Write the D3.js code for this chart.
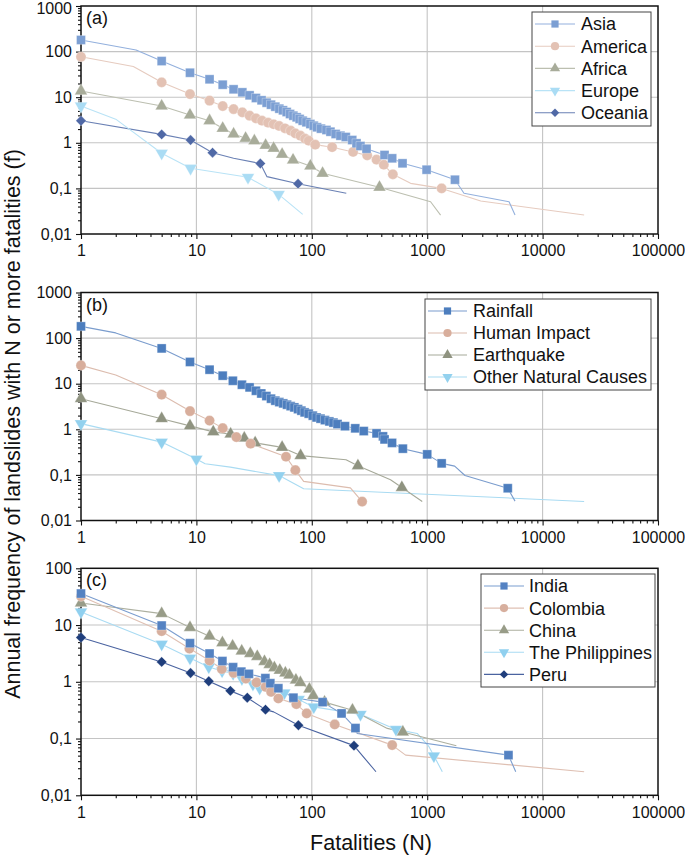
<!DOCTYPE html>
<html><head><meta charset="utf-8">
<script src="https://cdn.jsdelivr.net/npm/d3@7"></script>
<style>body{margin:0;background:#fff} svg{display:block;font-family:Arial,"Liberation Sans",sans-serif}</style>
</head><body><svg id="chart" width="685" height="857"></svg>
<script>
// ---------- tick labels ----------
const xTicks = [1, 10, 100, 1000, 10000, 100000];
const xTickLabels = ["1", "10", "100", "1000", "10000", "100000"];
const yTicksAB = [0.01, 0.1, 1, 10, 100, 1000];
const yTickLabelsAB = ["0,01", "0,1", "1", "10", "100", "1000"];
const yTicksC = [0.01, 0.1, 1, 10, 100];
const yTickLabelsC = ["0,01", "0,1", "1", "10", "100"];

// ---------- panel (a): continents ----------
const asiaN = [1,5,8.8,13,16.9,21,25,28.9,32.8,36.7,40.6,44.3,48.3,52.3,56.3,60.6,64.8,69.2,74,78.5,83.4,89.8,97.2,104,111,120,134,145,161,177,197,224,244,264,298,427,497,611,988,1740];
const asiaF = [180,62,34.4,24.7,18.8,14.9,12.8,11.0,9.6,8.55,7.57,6.85,6.19,5.6,5.16,4.73,4.28,3.93,3.62,3.33,3.05,2.82,2.58,2.37,2.19,2.04,1.91,1.75,1.56,1.43,1.34,1.15,0.975,0.85,0.74,0.54,0.457,0.355,0.257,0.155];
const asiaLineN = [3, 2083, 5120, 5770];
const asiaLineF = [108, 0.078, 0.051, 0.026];

const americaN = [1,5,8.8,13,16.9,21,25,28.9,32.8,37,41.8,46.7,52,58.6,65.6,72,79.6,87.5,94,107,150,228,302,364,421,504,1334];
const americaF = [77,21.2,11.7,8.4,6.4,5.5,4.66,3.93,3.44,3.05,2.76,2.55,2.34,2.08,1.84,1.61,1.43,1.23,1.11,0.91,0.80,0.63,0.53,0.426,0.33,0.204,0.10];
const americaLineN = [2.84, 718, 2910, 22900];
const americaLineF = [47, 0.129, 0.053, 0.026];

const africaN = [1,5,8.8,13,16.9,21,26.7,31.8,39.8,46.7,55.3,68.8,97.2,124,386];
const africaF = [13.7,6.4,4.07,3.05,2.08,1.56,1.26,1.1,0.88,0.757,0.56,0.42,0.31,0.214,0.106];
const africaLineN = [1070, 1306];
const africaLineF = [0.051, 0.026];

const europeN = [1,5,8.9,28,51.6];
const europeF = [6.4,0.59,0.276,0.175,0.074];
const europeLineN = [2, 83.4];
const europeLineF = [3.3, 0.027];

const oceaniaN = [1,5,8.9,13.8,35.8,76];
const oceaniaF = [3.05,1.53,1.15,0.607,0.351,0.127];
const oceaniaLineN = [21, 40.9, 199];
const oceaniaLineF = [0.46, 0.181, 0.078];

// ---------- panel (b): triggers ----------
const rainN = [1,5,8.8,13,16.9,20.7,24.8,28.9,32.8,36.5,40.4,44.3,48.3,52.3,56.6,61,65.6,70.6,76,81.2,86.7,94,102,110,119,130,142,154,167,194,238,282,364,414,427,496,615,1000,1334,4990];
const rainF = [181,59.4,30,20.3,15,11.6,9.5,8.3,7.0,6.1,5.35,4.69,4.24,3.95,3.7,3.46,3.22,3.02,2.77,2.56,2.35,2.2,1.99,1.82,1.71,1.59,1.49,1.40,1.30,1.17,1.05,0.914,0.814,0.70,0.60,0.503,0.376,0.282,0.179,0.051];
const rainLineN = [2, 1730, 2125, 5770];
const rainLineF = [130, 0.156, 0.097, 0.0266];

const humanN = [1,5,8.8,13,16.9,22.2,29.5,59.8,72,273];
const humanF = [25.2,5.74,2.51,1.55,1.06,0.675,0.483,0.25,0.127,0.026];
const humanLineN = [2, 85, 216];
const humanLineF = [15.5, 0.072, 0.052];

const quakeN = [1,5,8.8,14,19.8,26,32.3,55.3,80,251,603];
const quakeF = [4.69,1.71,1.19,0.877,0.785,0.638,0.504,0.401,0.265,0.159,0.053];
const quakeLineN = [198, 481, 906];
const quakeLineF = [0.215, 0.0785, 0.026];

const otherN = [1,5,10,52.1];
const otherF = [1.33,0.524,0.222,0.0966];
const otherLineN = [11.9, 19.7, 85, 22900];
const otherLineF = [0.176, 0.148, 0.0497, 0.0262];

// ---------- panel (c): countries ----------
const indiaN = [1,5,8.8,13,16.8,20.8,24.5,28.5,39.6,43.7,51.3,69.3,124,181,239,5060];
const indiaF = [35.9,9.8,4.79,3.15,2.32,1.81,1.51,1.38,1.16,0.944,0.77,0.525,0.438,0.277,0.153,0.051];
const indiaLineN = [247, 5850];
const indiaLineF = [0.123, 0.026];

const colombiaN = [1,5,8.7,13,16.6,21,26.8,33.2,39.8,44.4,51.3,73.5,90.3,158,497];
const colombiaF = [32.1,7.8,3.85,2.37,1.68,1.44,1.14,0.973,0.813,0.664,0.508,0.404,0.277,0.177,0.0766];
const colombiaLineN = [650, 22900];
const colombiaLineF = [0.051, 0.026];

const chinaN = [1,5,8.8,13,16.8,20.6,24.7,29.3,33.7,38.9,43.1,47.4,52.8,59,64,72.8,79.6,95.3,103,129,225,615];
const chinaF = [24.5,15.9,9.04,6.36,4.87,4.24,3.48,3.15,2.79,2.28,2.02,1.77,1.6,1.43,1.31,1.07,0.964,0.741,0.569,0.438,0.316,0.13];
const chinaLineN = [451, 1790];
const chinaLineF = [0.151, 0.0744];

const philN = [1,5,8.8,12.8,16.7,20.8,24.8,30.9,35.3,57.8,76.9,104,264,537,1143];
const philF = [17,4.59,2.62,1.83,1.55,1.4,1.14,0.908,0.771,0.638,0.488,0.361,0.267,0.145,0.0496];
const philLineN = [819, 1036, 1352];
const philLineF = [0.123, 0.072, 0.026];

const peruN = [1,5,8.9,12.8,19.7,27.6,39.7,76.5,232];
const peruF = [6.03,2.24,1.43,1.02,0.692,0.525,0.323,0.172,0.075];
const peruLineN = [46.7, 264, 360];
const peruLineF = [0.295, 0.0547, 0.026];

// ---------- helpers ----------
const pts = (N, F) => N.map((n, i) => ({n: n, f: F[i]}));
const linePts = (N, F, EN, EF) => pts(N, F).concat(pts(EN, EF)).sort((a, b) => a.n - b.n);

function S(name, shape, color, lineColor, N, F, LN, LF) {
  return {name, shape, color, lineColor, markers: pts(N, F), line: linePts(N, F, LN, LF)};
}

const panels = [
  { label: "(a)", top: 6, bottom: 234, yMax: 1000, ticks: yTicksAB, tickLabels: yTickLabelsAB,
    legend: {x: 532, y: 12, w: 119, h: 114, lx0: 535, lx1: 575, tx: 581, dy: 22.2},
    series: [
      S("Asia", "square", "#7c9fd3", "#93b0dd", asiaN, asiaF, asiaLineN, asiaLineF),
      S("America", "circle", "#e3c2b4", "#e6cbbf", americaN, americaF, americaLineN, americaLineF),
      S("Africa", "triangle", "#a8ac9a", "#bcbfb0", africaN, africaF, africaLineN, africaLineF),
      S("Europe", "tridown", "#aadcf4", "#b9e3f6", europeN, europeF, europeLineN, europeLineF),
      S("Oceania", "diamond", "#5069a6", "#6a80b4", oceaniaN, oceaniaF, oceaniaLineN, oceaniaLineF)
    ]},
  { label: "(b)", top: 292.5, bottom: 520.5, yMax: 1000, ticks: yTicksAB, tickLabels: yTickLabelsAB,
    legend: {x: 425, y: 299, w: 226, h: 91, lx0: 428, lx1: 467, tx: 473, dy: 22},
    series: [
      S("Rainfall", "square", "#4d7ebe", "#7a9ccd", rainN, rainF, rainLineN, rainLineF),
      S("Human Impact", "circle", "#d8ae9c", "#dcbcae", humanN, humanF, humanLineN, humanLineF),
      S("Earthquake", "triangle", "#8f9380", "#a6a999", quakeN, quakeF, quakeLineN, quakeLineF),
      S("Other Natural Causes", "tridown", "#93d1ee", "#a9dbf2", otherN, otherF, otherLineN, otherLineF)
    ]},
  { label: "(c)", top: 568.3, bottom: 795.3, yMax: 100, ticks: yTicksC, tickLabels: yTickLabelsC,
    legend: {x: 481, y: 574, w: 174, h: 113, lx0: 484, lx1: 524, tx: 529, dy: 22.1},
    series: [
      S("India", "square", "#5482c2", "#7b9dcf", indiaN, indiaF, indiaLineN, indiaLineF),
      S("Colombia", "circle", "#d7af9e", "#dfc0b3", colombiaN, colombiaF, colombiaLineN, colombiaLineF),
      S("China", "triangle", "#989c88", "#acaf9f", chinaN, chinaF, chinaLineN, chinaLineF),
      S("The Philippines", "tridown", "#90d0ef", "#a9dbf3", philN, philF, philLineN, philLineF),
      S("Peru", "diamond", "#1f3e7c", "#4a63a0", peruN, peruF, peruLineN, peruLineF)
    ]}
];

const svg = d3.select("#chart");
const X0 = 81, X1 = 658;

function symbolPath(shape, big) {
  const k = big ? 1 : 0.65;
  if (shape === "square") return {d: d3.symbol(d3.symbolSquare, 80 * k)(), rot: 0};
  if (shape === "circle") return {d: d3.symbol(d3.symbolCircle, 82 * k)(), rot: 0};
  if (shape === "triangle") return {d: d3.symbol(d3.symbolTriangle, 70 * k)(), rot: 0};
  if (shape === "tridown") return {d: d3.symbol(d3.symbolTriangle, 70 * k)(), rot: 180};
  return {d: d3.symbol(d3.symbolSquare, 54 * k)(), rot: 45};
}

panels.forEach((p, pi) => {
  const x = d3.scaleLog().domain([1, 1e5]).range([X0, X1]);
  const y = d3.scaleLog().domain([0.01, p.yMax]).range([p.bottom, p.top]);
  const g = svg.append("g");

  // grid
  g.append("g").selectAll("line").data(xTicks.slice(1, -1)).join("line")
    .attr("x1", d => x(d)).attr("x2", d => x(d)).attr("y1", p.top).attr("y2", p.bottom)
    .attr("stroke", "#c4c4c4").attr("stroke-width", 1.1);
  g.append("g").selectAll("line").data(p.ticks.slice(1, -1)).join("line")
    .attr("y1", d => y(d)).attr("y2", d => y(d)).attr("x1", X0).attr("x2", X1)
    .attr("stroke", "#c4c4c4").attr("stroke-width", 1.1);

  // minor tick positions (2..9 within each decade)
  const minorX = [], minorY = [];
  xTicks.slice(0, -1).forEach(d => { for (let k = 2; k <= 9; k++) minorX.push(d * k); });
  p.ticks.slice(0, -1).forEach(d => { for (let k = 2; k <= 9; k++) minorY.push(d * k); });

  // axes
  const ax = g.append("g").attr("transform", `translate(0,${p.bottom})`)
    .call(d3.axisBottom(x).tickValues(xTicks).tickFormat((d, i) => xTickLabels[i]).tickSize(5).tickPadding(6));
  const axm = g.append("g").attr("transform", `translate(0,${p.bottom})`)
    .call(d3.axisBottom(x).tickValues(minorX).tickFormat("").tickSize(3));
  const ay = g.append("g").attr("transform", `translate(${X0},0)`)
    .call(d3.axisLeft(y).tickValues(p.ticks).tickFormat((d, i) => p.tickLabels[i]).tickSize(5).tickPadding(4));
  const aym = g.append("g").attr("transform", `translate(${X0},0)`)
    .call(d3.axisLeft(y).tickValues(minorY).tickFormat("").tickSize(3));
  [ax, axm, ay, aym].forEach(a => {
    a.select(".domain").remove();
    a.selectAll("line").attr("stroke", "#111").attr("stroke-width", 1.1);
    a.selectAll("text").attr("font-size", 16).attr("fill", "#111")
      .attr("font-family", "Arial, 'Liberation Sans', sans-serif");
  });
  if (pi === 0) {
    // keep the topmost label inside the page
    ay.selectAll(".tick").filter(d => d === p.yMax).select("text").attr("dy", "0.45em");
  }

  // frame
  g.append("rect").attr("x", X0).attr("y", p.top).attr("width", X1 - X0).attr("height", p.bottom - p.top)
    .attr("fill", "none").attr("stroke", "#111").attr("stroke-width", 1.5);

  // series (first series drawn on top)
  const line = d3.line().x(d => x(d.n)).y(d => y(d.f));
  p.series.slice().reverse().forEach(s => {
    g.append("path").datum(s.line).attr("d", line).attr("fill", "none")
      .attr("stroke", s.lineColor).attr("stroke-width", 1.1).attr("stroke-linejoin", "round");
  });
  p.series.slice().reverse().forEach(s => {
    const sym = symbolPath(s.shape, true);
    g.append("g").selectAll("path").data(s.markers).join("path")
      .attr("d", sym.d)
      .attr("transform", d => `translate(${x(d.n)},${y(d.f)}) rotate(${sym.rot})`)
      .attr("fill", s.color).attr("stroke", "#ffffff").attr("stroke-opacity", 0.5).attr("stroke-width", 0.6);
  });

  // panel label
  g.append("text").attr("x", 86).attr("y", p.top + 18).attr("font-size", 18).attr("fill", "#111").text(p.label);

  // legend
  const L = p.legend;
  g.append("rect").attr("x", L.x).attr("y", L.y).attr("width", L.w).attr("height", L.h)
    .attr("fill", "#fff").attr("stroke", "#444").attr("stroke-width", 1);
  p.series.forEach((s, i) => {
    const cy = L.y + 12 + i * L.dy;
    g.append("line").attr("x1", L.lx0).attr("x2", L.lx1).attr("y1", cy).attr("y2", cy)
      .attr("stroke", s.lineColor).attr("stroke-width", 1.1);
    const sym = symbolPath(s.shape, false);
    g.append("path").attr("d", sym.d)
      .attr("transform", `translate(${(L.lx0 + L.lx1) / 2},${cy}) rotate(${sym.rot})`)
      .attr("fill", s.color);
    g.append("text").attr("x", L.tx).attr("y", cy).attr("dy", "0.36em")
      .attr("font-size", 18).attr("fill", "#111").text(s.name);
  });
});

// axis titles
svg.append("text").attr("transform", "translate(20,424) rotate(-90)")
  .attr("text-anchor", "middle").attr("font-size", 21.5).attr("fill", "#111")
  .text("Annual frequency of landslides with N or more fatalities (f)");
svg.append("text").attr("x", 371).attr("y", 850).attr("text-anchor", "middle")
  .attr("font-size", 21.5).attr("fill", "#111").text("Fatalities (N)");
</script>
</body></html>
